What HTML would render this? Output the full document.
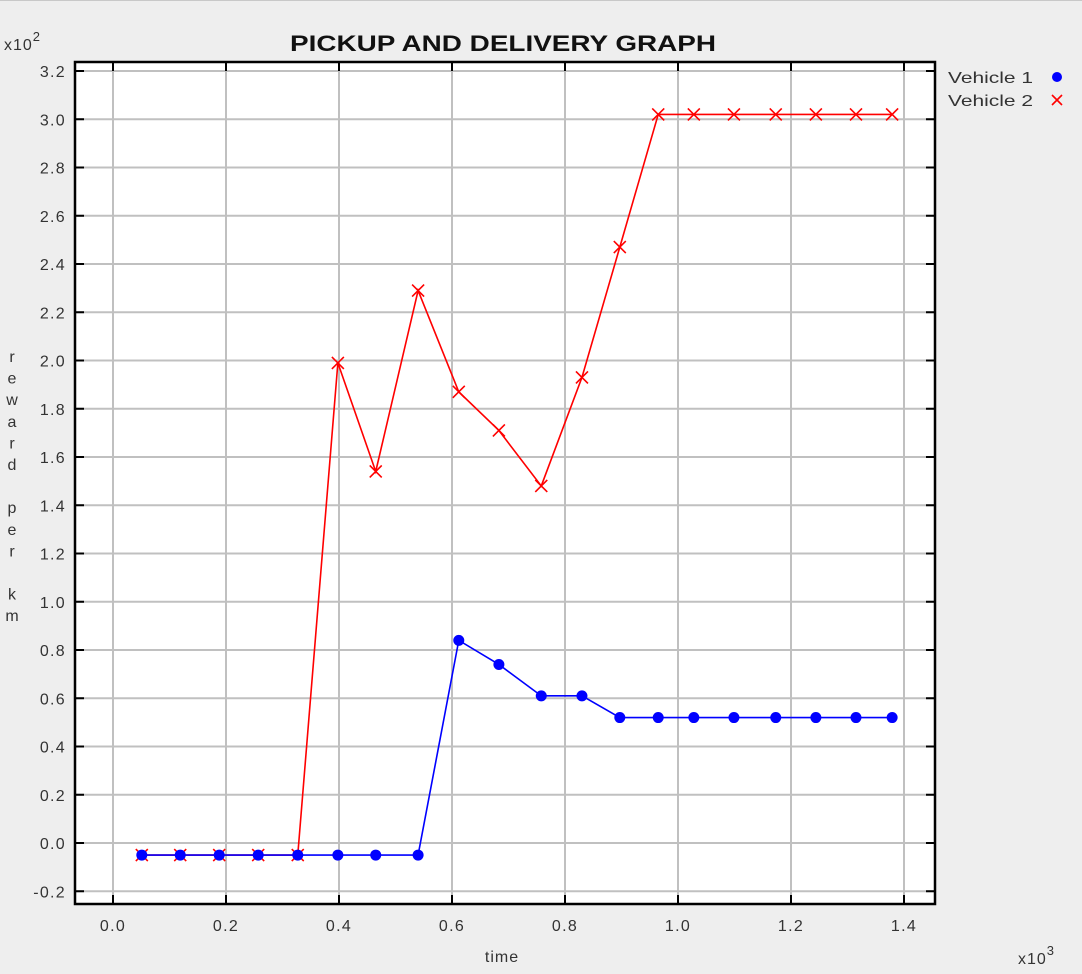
<!DOCTYPE html>
<html><head><meta charset="utf-8"><style>
html,body{margin:0;padding:0;background:#eeeeee;}
svg{display:block;font-family:"Liberation Sans",sans-serif;}
</style></head><body>
<svg id="chart" width="1082" height="974" viewBox="0 0 1082 974" xmlns="http://www.w3.org/2000/svg">
<rect x="0" y="0" width="1082" height="974" fill="#eeeeee"/>
<line x1="0" y1="0.5" x2="1082" y2="0.5" stroke="#c8c8c8"/>
<text x="290" y="51" font-size="22" font-weight="bold" textLength="426" lengthAdjust="spacingAndGlyphs" fill="#111">PICKUP AND DELIVERY GRAPH</text>
<text x="4" y="50" font-size="16" letter-spacing="1" fill="#333">x10<tspan dy="-9" font-size="13">2</tspan></text>
<text x="1018" y="964" font-size="16" letter-spacing="1" fill="#333">x10<tspan dy="-9" font-size="13">3</tspan></text>
<text x="502" y="962" font-size="16" letter-spacing="1" fill="#333" text-anchor="middle">time</text>
<text font-size="16" fill="#333" text-anchor="middle" id="ytitle"></text>
<rect x="75" y="62" width="860" height="842" fill="#ffffff"/>
<g id="grid"></g>
<g id="ticks"></g>
<g id="series"></g>
<rect x="75" y="62" width="860" height="842" fill="none" stroke="#000" stroke-width="2.5"/>
<g>
<text x="948" y="83" font-size="16" textLength="85" lengthAdjust="spacingAndGlyphs" fill="#333">Vehicle 1</text>
<circle cx="1057" cy="77" r="5" fill="#0000ff"/>
<text x="948" y="106" font-size="16" textLength="85" lengthAdjust="spacingAndGlyphs" fill="#333">Vehicle 2</text>
<path d="M1052,95 L1062,105 M1062,95 L1052,105" stroke="#ff0000" stroke-width="1.6"/>
</g>
</svg>
<script>
const times = [0.051,0.119,0.188,0.257,0.327,0.398,0.465,0.540,0.612,0.683,0.758,0.830,0.897,0.965,1.028,1.099,1.173,1.244,1.315,1.379];
const vehicle1 = [-0.05,-0.05,-0.05,-0.05,-0.05,-0.05,-0.05,-0.05,0.84,0.74,0.61,0.61,0.52,0.52,0.52,0.52,0.52,0.52,0.52,0.52];
const vehicle2 = [-0.05,-0.05,-0.05,-0.05,-0.05,1.99,1.54,2.29,1.87,1.71,1.48,1.93,2.47,3.02,3.02,3.02,3.02,3.02,3.02,3.02];
const xTicks = [0.0,0.2,0.4,0.6,0.8,1.0,1.2,1.4];
const yTicks = [-0.2,0.0,0.2,0.4,0.6,0.8,1.0,1.2,1.4,1.6,1.8,2.0,2.2,2.4,2.6,2.8,3.0,3.2];
const yTitleChars = ["r","e","w","a","r","d","","p","e","r","","k","m"];

const NS="http://www.w3.org/2000/svg";
const xs=v=>113+(v/0.2)*113;
const ys=v=>843-(v/0.2)*48.25;
function mk(tag,attrs,parent){const e=document.createElementNS(NS,tag);for(const k in attrs)e.setAttribute(k,attrs[k]);parent.appendChild(e);return e;}
const grid=document.getElementById('grid'),ticks=document.getElementById('ticks'),series=document.getElementById('series'),svg=document.getElementById('chart');

xTicks.forEach(t=>{
  const x=xs(t);
  const g=mk('line',{x1:x,y1:62,x2:x,y2:904,stroke:'#c0c0c0','stroke-width':2},grid);
  
  
  const a=mk('line',{x1:x,y1:62,x2:x,y2:71,stroke:'#000','stroke-width':2},ticks);
  
  
  const b=mk('line',{x1:x,y1:895,x2:x,y2:904,stroke:'#000','stroke-width':2},ticks);
  
  
  const l=mk('text',{x:x,y:931,'font-size':16,'letter-spacing':1.3,fill:'#333','text-anchor':'middle'},svg);
  l.textContent=t.toFixed(1);
  
  
});
yTicks.forEach(t=>{
  const y=ys(t);
  const g=mk('line',{x1:75,y1:y,x2:935,y2:y,stroke:'#c0c0c0','stroke-width':2},grid);
  
  
  const a=mk('line',{x1:75,y1:y,x2:84,y2:y,stroke:'#000','stroke-width':2},ticks);
  
  
  const b=mk('line',{x1:926,y1:y,x2:935,y2:y,stroke:'#000','stroke-width':2},ticks);
  
  
  const l=mk('text',{x:66,y:y+6,'font-size':16,'letter-spacing':1.3,fill:'#333','text-anchor':'end'},svg);
  l.textContent=t.toFixed(1);
  
  
});
const yt=document.getElementById('ytitle');
yTitleChars.forEach((c,i)=>{
  const s=mk('tspan',{x:12,y:362+i*21.6},yt);
  s.textContent=c||' ';
});

function poly(vals,color,name){
  const p=mk('polyline',{points:times.map((t,i)=>xs(t)+','+ys(vals[i])).join(' '),fill:'none',stroke:color,'stroke-width':1.6},series);
  
  
}
poly(vehicle2,'#ff0000','vehicle-2');
poly(vehicle1,'#0000ff','vehicle-1');
times.forEach((t,i)=>{
  const x=xs(t),y=ys(vehicle2[i]);
  const m=mk('path',{d:`M${x-6},${y-6} L${x+6},${y+6} M${x+6},${y-6} L${x-6},${y+6}`,stroke:'#ff0000','stroke-width':1.6},series);
  
  
});
times.forEach((t,i)=>{
  const c=mk('circle',{cx:xs(t),cy:ys(vehicle1[i]),r:5.5,fill:'#0000ff'},series);
  
  
});
</script>
</body></html>
